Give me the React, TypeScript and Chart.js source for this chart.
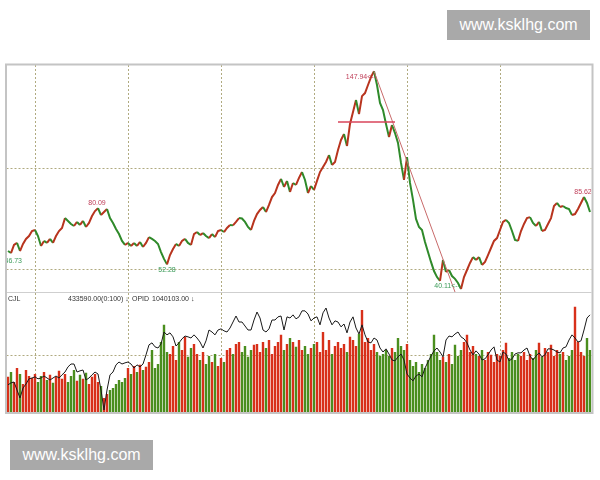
import React, { useEffect, useRef } from "react";
import { Chart, registerables } from "chart.js";

Chart.register(...registerables);

// ---- data ----
const closes: number[] = [
  58.9, 57.9, 61.9, 62.9, 58.9, 62.4, 64.9, 66.3, 68.8, 69.3,
  66.3, 61.4, 63.9, 62.9, 64.9, 62.9, 66.3, 68.8, 70.3, 75.2,
  73.8, 72.3, 71.3, 73.3, 71.8, 73.8, 70.8, 72.8, 76.2, 78.7,
  80.09, 76.7, 78.2, 79.7, 75.2, 72.8, 69.8, 67.3, 63.9, 61.9,
  62.9, 61.4, 62.9, 61.4, 63.4, 60.9, 62.9, 65.8, 64.9, 63.9,
  62.4, 58.4, 55.0, 52.28, 56.9, 59.9, 62.4, 61.4, 63.9, 64.9,
  62.9, 61.9, 67.3, 68.3, 66.8, 67.8, 66.3, 65.3, 67.3, 65.8,
  68.8, 69.3, 68.3, 70.3, 71.8, 71.6, 73.3, 75.2, 75.0, 73.3,
  70.8, 69.3, 73.8, 77.2, 79.2, 80.7, 78.2, 81.7, 85.6, 87.6,
  91.6, 94.6, 90.6, 93.6, 88.1, 92.6, 91.6, 95.1, 98.0, 94.1,
  87.6, 91.1, 89.1, 93.6, 98.0, 100.5, 103.0, 106.4, 101.5, 103.0,
  108.9, 113.9, 116.8, 110.9, 121.8, 127.7, 133.7, 126.7, 135.6, 137.1,
  141.1, 145.0, 147.94, 141.1, 132.2, 128.7, 121.8, 115.3, 121.3, 117.3,
  112.4, 102.5, 94.1, 105.4, 92.6, 84.2, 74.8, 70.8, 69.3, 63.4,
  58.4, 53.5, 49.0, 46.0, 44.1, 54.5, 48.5, 49.5, 46.5, 45.1,
  43.1, 40.11, 46.0, 49.5, 53.0, 55.9, 54.5, 55.9, 52.0, 53.5,
  56.9, 60.4, 63.9, 65.3, 69.3, 73.3, 74.3, 72.8, 68.8, 64.4,
  63.9, 68.8, 72.3, 75.2, 75.7, 72.8, 71.3, 73.3, 68.8, 69.3,
  72.3, 75.2, 81.2, 82.7, 80.7, 81.2, 80.2, 79.7, 76.7, 77.2,
  79.7, 82.7, 85.62, 82.7, 78.2,
];

// volume (thousand lots)
const volumes: number[] = [
  123, 140, 105, 154, 133, 98, 147, 126,
  119, 133, 105, 126, 140, 112, 130, 102, 123, 144, 116, 133, 105, 126, 147, 109, 130, 116, 137, 98, 123, 133, 105,
  91, 49, 63, 77,
  84, 98, 112, 105, 119,
  154, 133, 161, 140, 165, 147, 158,
  175, 217, 154, 168,
  245, 305, 210,
  203, 231, 182, 245, 217, 263, 193, 224, 238, 203,
  182, 210, 168, 196, 175, 203, 161, 189, 175, 217,
  224, 203, 238, 245, 210, 231, 193, 217, 235,
  238, 210, 245, 224, 252, 203, 231, 245, 270, 217, 238, 259,
  245, 228, 252,
  217, 231, 203, 224, 238,
  245, 210, 280, 217, 252, 203, 231, 245,
  224, 238, 210, 263,
  252, 231, 273, 357, 245,
  259, 217, 238, 210, 196,
  203, 217, 196, 224, 210, 259, 231,
  217, 238, 182, 161, 175, 140,
  168, 154, 182, 203,
  270, 210, 182,
  193, 175, 203, 168, 235, 196,
  217, 245, 270, 210, 231, 203,
  196, 217, 182, 210, 200, 175, 203,
  196, 217, 242, 189, 210, 182, 203,
  196, 210, 182, 203, 189, 217, 242, 193,
  224, 210, 235, 196, 217, 203,
  210, 182, 196, 217,
  368, 245,
  210, 196, 259, 217,
];

// open interest (thousand lots)
const openInterest: number[] = [
  795, 802, 805, 777, 749, 784, 798, 816, 819, 823,
  816, 819, 826, 819, 812, 819, 826, 819, 830, 840,
  858, 868, 868, 840, 844, 847, 812, 819, 830, 840,
  833, 777, 707, 777, 830, 840, 865, 875, 868, 872,
  875, 868, 854, 865, 858, 868, 900, 935, 942, 928,
  924, 938, 980, 970, 977, 963, 931, 942, 956, 966,
  963, 959, 970, 959, 945, 924, 949, 987, 980, 970,
  987, 991, 984, 980, 994, 1015, 1036, 1015, 1015, 1001,
  987, 987, 1022, 1050, 1029, 987, 980, 991, 1022, 1022,
  1033, 1036, 987, 1033, 1029, 1040, 1026, 1033, 1054, 1054,
  1043, 1019, 1029, 1033, 1005, 1047, 1064, 1029, 1005, 1019,
  1015, 998, 1008, 977, 1015, 1033, 994, 973, 1005, 970,
  945, 942, 959, 952, 924, 910, 921, 903, 882, 879,
  893, 903, 882, 833, 819, 809, 826, 833, 823, 854,
  875, 896, 914, 924, 910, 893, 952, 966, 963, 973,
  980, 963, 956, 942, 917, 900, 914, 903, 882, 886,
  900, 917, 928, 882, 875, 910, 903, 879, 886, 903,
  907, 907, 917, 924, 896, 882, 896, 907, 893, 900,
  921, 921, 917, 910, 907, 924, 928, 952, 970, 959,
  945, 949, 987, 1029, 1040,
];

const categories: number[] = closes.map((_, i) => i);

// grid positions (bar index) and levels
const gridIdx: number[] = [9, 40, 71, 102, 133, 164];
const priceGrid: number[] = [50, 100];
const volumeGrid: number[] = [200];
const priceFloor = 38.6;

// trend lines drawn on the chart
const supportLine = [
  { x: 110, y: 122.8 },
  { x: 129, y: 122.8 },
];
const downTrend = [
  { x: 122, y: 147.94 },
  { x: 149, y: 38.6 },
];

// price annotations
const priceMarks = [
  { i: 122, v: 147.94, text: "147.94<--", kind: "peak" },
  { i: 30, v: 80.09, text: "80.09", kind: "high" },
  { i: 53, v: 52.28, text: "52.28", kind: "low" },
  { i: 151, v: 40.11, text: "40.11<--", kind: "lowArrow" },
  { i: 192, v: 85.62, text: "85.62", kind: "high" },
  { i: 0, v: 58.9, text: "46.73", kind: "start" },
];

const volumeTitle = "CJL";
const volumeValue = "433590.00(0:100) \u2193";
const oiTitle = "OPID";
const oiValue = "1040103.00 \u2193";
const watermark = "www.ksklhg.com";

// ---- styles ----
const UP = "#d8301a";
const DOWN = "#4a8e1e";
const LINE_UP = "#b8341e";
const LINE_DOWN = "#2f8a2a";
const GRID = "#b0aa80";
const RED_TXT = "#c0405a";
const GREEN_TXT = "#3c9c5a";
const FONT = '"Liberation Sans", Arial, sans-serif';

const isUp = closes.map((c, i) => (i === 0 ? true : c >= closes[i - 1]));

const panelPlugin = {
  id: "panels",
  beforeDatasetsDraw(chart: any) {
    const { ctx, chartArea: a, scales } = chart;
    const x = scales.x;
    const yP = scales.yP;
    const yV = scales.yV;
    ctx.save();
    ctx.strokeStyle = GRID;
    ctx.lineWidth = 1;
    ctx.setLineDash([2, 2]);
    const line = (x1: number, y1: number, x2: number, y2: number) => {
      ctx.beginPath();
      ctx.moveTo(x1, y1);
      ctx.lineTo(x2, y2);
      ctx.stroke();
    };
    for (const g of gridIdx) {
      const px = Math.round(x.getPixelForValue(g)) + 0.5;
      line(px, a.top, px, a.bottom);
    }
    for (const p of priceGrid) {
      const py = Math.round(yP.getPixelForValue(p)) + 0.5;
      line(a.left, py, a.right, py);
    }
    for (const v of volumeGrid) {
      const py = Math.round(yV.getPixelForValue(v)) + 0.5;
      line(a.left, py, a.right, py);
    }
    ctx.restore();
  },
  afterDatasetsDraw(chart: any) {
    const { ctx, chartArea: a, scales } = chart;
    const x = scales.x;
    const yP = scales.yP;
    ctx.save();
    // panel separator
    const sep = Math.round(yP.getPixelForValue(priceFloor)) + 0.5;
    ctx.strokeStyle = "#cfcfcf";
    ctx.lineWidth = 1;
    ctx.beginPath();
    ctx.moveTo(a.left, sep);
    ctx.lineTo(a.right, sep);
    ctx.stroke();

    // annotations (clipped to the plot frame)
    ctx.save();
    ctx.beginPath();
    ctx.rect(a.left, a.top, a.right - a.left, a.bottom - a.top);
    ctx.clip();
    ctx.font = `7px ${FONT}`;
    ctx.textBaseline = "middle";
    for (const m of priceMarks) {
      const px = x.getPixelForValue(m.i);
      const py = yP.getPixelForValue(m.v);
      if (m.kind === "peak") {
        ctx.fillStyle = RED_TXT;
        ctx.textAlign = "right";
        ctx.fillText(m.text, px + 2, py + 6);
      } else if (m.kind === "high") {
        ctx.fillStyle = RED_TXT;
        ctx.textAlign = "center";
        ctx.fillText(m.text, px - 1, py - 5);
      } else if (m.kind === "low") {
        ctx.fillStyle = GREEN_TXT;
        ctx.textAlign = "center";
        ctx.fillText(m.text, px, py + 6);
      } else if (m.kind === "lowArrow") {
        ctx.fillStyle = GREEN_TXT;
        ctx.textAlign = "right";
        ctx.fillText(m.text, px - 1, py - 3);
      } else {
        ctx.fillStyle = GREEN_TXT;
        ctx.textAlign = "left";
        ctx.fillText(m.text, a.left - 2, py + 10);
      }
    }
    // volume panel header
    ctx.fillStyle = "#333";
    ctx.textAlign = "left";
    const hy = sep + 6.5;
    ctx.fillText(volumeTitle, a.left + 1.5, hy);
    ctx.fillText(volumeValue, a.left + 61.5, hy);
    ctx.fillText(oiTitle, a.left + 125.5, hy);
    ctx.fillText(oiValue, a.left + 145.5, hy);
    ctx.restore();

    // outer frame
    ctx.strokeStyle = "#c4c4c4";
    ctx.lineWidth = 2;
    ctx.strokeRect(a.left - 0.5, a.top - 0.5, a.right - a.left + 1.5, a.bottom - a.top + 1.5);
    ctx.restore();
  },
};

export default function App() {
  const ref = useRef<HTMLCanvasElement | null>(null);

  useEffect(() => {
    if (!ref.current) return;
    const chart = new Chart(ref.current, {
      type: "bar",
      data: {
        labels: categories,
        datasets: [
          {
            type: "line",
            data: supportLine as any,
            xAxisID: "x",
            yAxisID: "yP",
            borderColor: "#d8455a",
            borderWidth: 1.5,
            pointRadius: 0,
            order: 0,
          } as any,
          {
            type: "line",
            data: downTrend as any,
            xAxisID: "x",
            yAxisID: "yP",
            borderColor: "#c86a6a",
            borderWidth: 1,
            pointRadius: 0,
            order: 0,
          } as any,
          {
            type: "line",
            data: closes,
            xAxisID: "x",
            yAxisID: "yP",
            borderWidth: 2,
            pointRadius: 0,
            tension: 0,
            segment: {
              borderColor: (c: any) => (c.p1.parsed.y >= c.p0.parsed.y ? LINE_UP : LINE_DOWN),
            },
            order: 1,
          } as any,
          {
            type: "line",
            data: openInterest,
            xAxisID: "x",
            yAxisID: "yO",
            borderColor: "#1a1a1a",
            borderWidth: 1,
            pointRadius: 0,
            tension: 0,
            order: 2,
          } as any,
          {
            type: "bar",
            data: volumes,
            xAxisID: "x",
            yAxisID: "yV",
            backgroundColor: isUp.map((u) => (u ? UP : DOWN)),
            borderWidth: 0,
            barPercentage: 0.8,
            categoryPercentage: 1,
            grouped: false,
            order: 3,
          } as any,
        ],
      },
      options: {
        responsive: false,
        animation: false,
        devicePixelRatio: 1,
        layout: { padding: { left: 6.5, right: 8.5, top: 65, bottom: 68 } },
        plugins: { legend: { display: false }, tooltip: { enabled: false } },
        scales: {
          x: { type: "linear", min: -0.5, max: 194.5, display: false, offset: false },
          yP: { type: "linear", min: -20.8, max: 151, display: false },
          yV: { type: "linear", min: 0, max: 1214.5, display: false },
          yO: { type: "linear", min: 700, max: 1914.5, display: false },
        },
      } as any,
      plugins: [panelPlugin],
    });
    return () => chart.destroy();
  }, []);

  const mark: React.CSSProperties = {
    position: "absolute",
    width: 143,
    height: 30,
    background: "#a9a9a9",
    color: "#fff",
    font: `16px ${FONT}`,
    display: "flex",
    alignItems: "center",
    justifyContent: "center",
  };

  return (
    <div style={{ position: "absolute", left: 0, top: 0, width: 600, height: 480, background: "#fff" }}>
      <canvas ref={ref} width={600} height={480} style={{ position: "absolute", left: 0, top: 0 }} />
      <div style={{ ...mark, left: 447, top: 10 }}>{watermark}</div>
      <div style={{ ...mark, left: 10, top: 440 }}>{watermark}</div>
    </div>
  );
}
